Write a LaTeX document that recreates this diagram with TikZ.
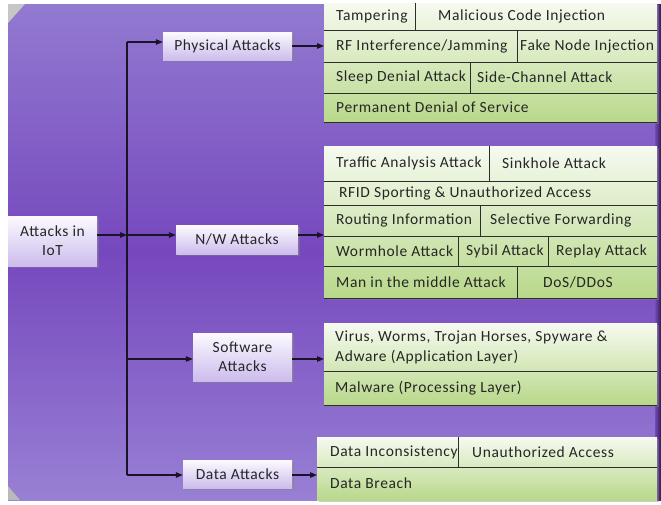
\documentclass[tikz,border=0pt]{standalone}
\usepackage{fontspec}
\setmainfont{Carlito}[LetterSpace=4]
\usetikzlibrary{arrows.meta,shadows}
\definecolor{bgtop}{RGB}{146,122,208}
\definecolor{bgmid}{RGB}{118,72,190}
\definecolor{bgbot}{RGB}{152,128,212}
\definecolor{boxtop}{RGB}{252,250,255}
\definecolor{boxbot}{RGB}{204,188,236}
\definecolor{tabtop}{RGB}{246,250,240}
\definecolor{tabbot}{RGB}{184,216,138}
\definecolor{txtc}{RGB}{38,38,38}
\definecolor{linec}{RGB}{25,20,40}
\definecolor{sepc}{RGB}{45,45,45}
\begin{document}
\begin{tikzpicture}[x=1pt,y=-1pt,
 catbox/.style={shade, top color=boxtop, bottom color=boxbot, draw=none, inner sep=0pt, align=center,
   font=\fontsize{15.5}{19}\selectfont, text=txtc,
   drop shadow={opacity=0.45, shadow xshift=2pt, shadow yshift=-2pt}},
 celltext/.style={anchor=west, inner sep=0pt, font=\fontsize{15.5}{20}\selectfont, text=txtc, align=left},
 tabfill/.style={top color=tabtop, bottom color=tabbot, drop shadow={opacity=0.4, shadow xshift=1.5pt, shadow yshift=-2pt}},
 rowline/.style={draw=sepc, line width=0.9pt},
 conn/.style={draw=linec, line width=1.2pt, -{Triangle[length=7pt,width=5.5pt]}},
 spineline/.style={draw=linec, line width=1.2pt}]
\useasboundingbox (0,0) rectangle (661,504);
% background
\shade[top color=bgtop, bottom color=bgbot, middle color=bgmid] (8,4) rectangle (661,500);
\shade[left color=bgmid, right color=black!60!bgmid] (655,4) rectangle (661,500);
\fill[gray!45] (8,4) -- (25,4) -- (8,23) -- cycle;
\fill[gray!55] (8,486) -- (20,500) -- (8,500) -- cycle;

% category boxes
\node[catbox, minimum width=89pt, minimum height=50pt] (iot) at (52.5,241) {Attacks in\\IoT};
\node[catbox, minimum width=129pt, minimum height=28pt] (phy) at (227.5,46) {Physical Attacks};
\node[catbox, minimum width=122pt, minimum height=29pt] (nw) at (237,239.5) {N/W Attacks};
\node[catbox, minimum width=99pt, minimum height=48pt] (sw) at (242.5,357) {Software\\Attacks};
\node[catbox, minimum width=109pt, minimum height=28pt] (data) at (237.5,474) {Data Attacks};

% physical table
\shade[tabfill] (324,3) rectangle (657,122);
\draw[rowline] (324,30) -- (657,30) (324,62) -- (657,62) (324,93) -- (657,93) (324,122) -- (657,122);
\draw[rowline] (415,3) -- (415,30) (517,30) -- (517,62) (470,62) -- (470,93);
\node[celltext] (p1) at (336,16.5) {Tampering};
\node[celltext] (p2) at (438,16.5) {Malicious Code Injection};
\node[celltext] (p3) at (336,46) {RF Interference/Jamming};
\node[celltext] (p4) at (520,46) {Fake Node Injection};
\node[celltext] (p5) at (336,77.5) {Sleep Denial Attack};
\node[celltext] (p6) at (477,77.5) {Side-Channel Attack};
\node[celltext] (p7) at (336,107.5) {Permanent Denial of Service};

% N/W table
\shade[tabfill] (324,146) rectangle (657,298);
\draw[rowline] (324,181) -- (657,181) (324,205) -- (657,205) (324,236) -- (657,236) (324,266) -- (657,266) (324,298) -- (657,298);
\draw[rowline] (489,146) -- (489,181) (480,205) -- (480,236) (458,236) -- (458,266) (548,236) -- (548,266) (517,266) -- (517,298);
\node[celltext] (n1) at (336,163.5) {Traffic Analysis Attack};
\node[celltext] (n2) at (502,163.5) {Sinkhole Attack};
\node[celltext] (n3) at (339,193) {RFID Sporting \& Unauthorized Access};
\node[celltext] (n4) at (336,220.5) {Routing Information};
\node[celltext] (n5) at (490,220.5) {Selective Forwarding};
\node[celltext] (n6) at (336,251) {Wormhole Attack};
\node[celltext] (n7) at (466,251) {Sybil Attack};
\node[celltext] (n8) at (556,251) {Replay Attack};
\node[celltext] (n9) at (336,282) {Man in the middle Attack};
\node[celltext] (n10) at (543,282) {DoS/DDoS};

% software table
\shade[tabfill] (324,323) rectangle (657,405);
\draw[rowline] (324,371) -- (657,371) (324,405) -- (657,405);
\node[celltext] (s1) at (335,347) {Virus, Worms, Trojan Horses, Spyware \&\\Adware (Application Layer)};
\node[celltext] (s2) at (335,388) {Malware (Processing Layer)};

% data table
\shade[tabfill] (317,437) rectangle (657,500);
\draw[rowline] (317,467) -- (657,467);
\draw[rowline] (458,437) -- (458,467);
\node[celltext] (d1) at (330,452) {Data Inconsistency};
\node[celltext] (d2) at (472,452) {Unauthorized Access};
\node[celltext] (d3) at (330,483) {Data Breach};

% connectors
\coordinate (jP) at (127,42);
\coordinate (jI) at (127,235);
\coordinate (jS) at (127,359);
\coordinate (jD) at (127,475);
\coordinate (tP) at (324,46);
\coordinate (tN) at (324,235);
\coordinate (tS) at (324,359);
\coordinate (tD) at (317,475);
\draw[spineline] (jP) -- (jD);
\draw[conn] (iot.east |- jI) -- (jI);
\draw[conn] (jI) -- (jI -| nw.west);
\draw[conn] (jP) -- (jP -| phy.west);
\draw[conn] (jS) -- (jS -| sw.west);
\draw[conn] (jD) -- (jD -| data.west);
\draw[conn] (phy.east |- tP) -- (tP);
\draw[conn] (nw.east |- tN) -- (tN);
\draw[conn] (sw.east |- tS) -- (tS);
\draw[conn] (data.east |- tD) -- (tD);
\end{tikzpicture}
\end{document}
